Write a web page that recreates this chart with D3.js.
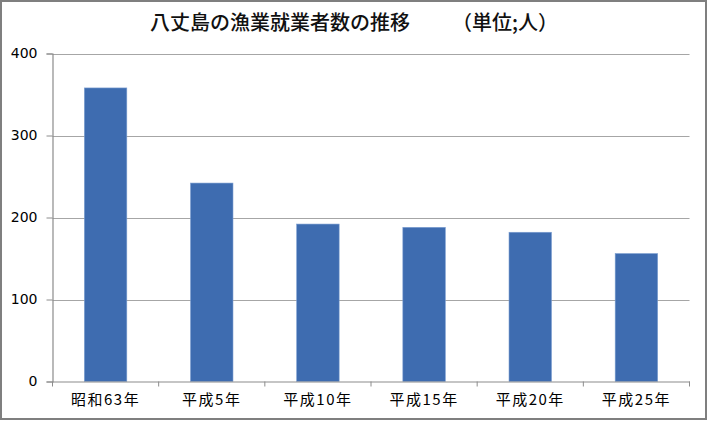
<!DOCTYPE html>
<html><head><meta charset="utf-8">
<script src="https://cdn.jsdelivr.net/npm/d3@7"></script>
<style>
html,body{margin:0;padding:0;background:#fff;}
svg{display:block;}
text{font-family:"Noto Sans CJK JP","Noto Sans",sans-serif;}
</style></head>
<body>
<svg id="c" width="708" height="421"></svg>
<script>
const categories = ["昭和63年","平成5年","平成10年","平成15年","平成20年","平成25年"];
const values = [358, 242, 192, 188, 182, 156];
const yTicks = [0, 100, 200, 300, 400];
const titleMain = "八丈島の漁業就業者数の推移";
const titleUnit = "（単位;人）";

const svg = d3.select("#c");
const W = 708, H = 421;
// outer frame
svg.append("rect").attr("x",1).attr("y",1).attr("width",W-3).attr("height",H-3)
  .attr("fill","#fff").attr("stroke","#7f7f7f").attr("stroke-width",2);

const x0 = 52.5, x1 = 689.5, yTop = 53.5, yBot = 381.5;
const x = d3.scaleBand().domain(categories).range([x0, x1]).paddingInner(0.6).paddingOuter(0.3);
const y = d3.scaleLinear().domain([0, 400]).range([yBot, yTop]);

// gridlines
svg.append("g").selectAll("line").data(yTicks.filter(d=>d>0)).join("line")
  .attr("x1", x0).attr("x2", x1).attr("y1", d=>Math.round(y(d))+0.5).attr("y2", d=>Math.round(y(d))+0.5)
  .attr("stroke","#a6a6a6").attr("stroke-width",1.2);

// bars
svg.append("g").selectAll("rect").data(values).join("rect")
  .attr("x",(d,i)=>x(categories[i]))
  .attr("width", x.bandwidth())
  .attr("y", d=>y(d))
  .attr("height", d=>yBot - y(d))
  .attr("fill","#3e6cb0")
  .attr("stroke","#7b9dd0").attr("stroke-width",0.6);

// y axis
const yAxis = d3.axisLeft(y).tickValues(yTicks).tickSize(6).tickPadding(9);
const gy = svg.append("g").attr("transform",`translate(${x0},0)`).call(yAxis);
gy.select(".domain").attr("stroke","#8c8c8c").attr("stroke-width",1.2);
gy.selectAll(".tick line").attr("stroke","#8c8c8c");
gy.selectAll(".tick text").style("font-size","14px").attr("fill","#000")
  .style("font-family","'DejaVu Sans',sans-serif");

// x axis
const gx = svg.append("g").attr("transform",`translate(0,${yBot})`)
  .call(d3.axisBottom(x).tickSize(0).tickPadding(13));
gx.select(".domain").attr("stroke","#8c8c8c").attr("stroke-width",1.2);
gx.selectAll(".tick text").attr("font-size",15).attr("fill","#000")
  .attr("letter-spacing","1.5px");
// boundary ticks between categories
const bounds = d3.range(categories.length+1).map(i => x0 + i*x.step());
svg.append("g").selectAll("line").data(bounds).join("line")
  .attr("x1",d=>d).attr("x2",d=>d).attr("y1",yBot).attr("y2",yBot+5)
  .attr("stroke","#8c8c8c").attr("stroke-width",1);

// title
svg.append("text").attr("x",150).attr("y",30).attr("font-size",20).attr("font-weight",500)
  .attr("fill","#111").text(titleMain);
svg.append("text").attr("x",558).attr("y",30).attr("text-anchor","end").attr("font-size",20).attr("font-weight",500)
  .attr("fill","#111").text(titleUnit);
</script>
</body></html>
